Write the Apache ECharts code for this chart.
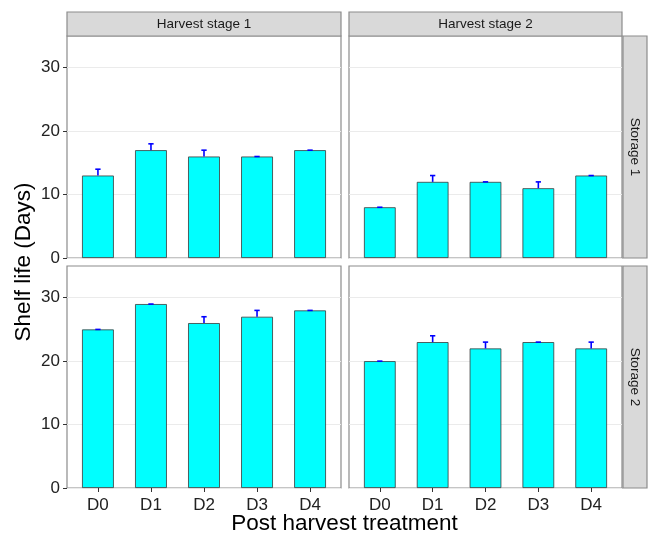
<!DOCTYPE html>
<html>
<head>
<meta charset="utf-8">
<style>
  html, body { margin: 0; padding: 0; background: #ffffff; }
  #chart { width: 651px; height: 536px; }
</style>
<script src="https://cdn.jsdelivr.net/npm/echarts@6/dist/echarts.min.js"></script>
</head>
<body>
<div id="chart"></div>
<script>
// Treatments on the x axis
const categories = ['D0', 'D1', 'D2', 'D3', 'D4'];
// Facet labels
const stageLabels = ['Harvest stage 1', 'Harvest stage 2'];
const storageLabels = ['Storage 1', 'Storage 2'];
// Y axis tick values
const yTicks = [0, 10, 20, 30];
const yMax = 35;

// Mean shelf life (days) and standard error, per facet
const storage1Stage1 = [13, 17, 16, 16, 17];
const storage1Stage1Err = [1, 1, 1, 0, 0];
const storage1Stage2 = [8, 12, 12, 11, 13];
const storage1Stage2Err = [0, 1, 0, 1, 0];
const storage2Stage1 = [25, 29, 26, 27, 28];
const storage2Stage1Err = [0, 0, 1, 1, 0];
const storage2Stage2 = [20, 23, 22, 23, 22];
const storage2Stage2Err = [0, 1, 1, 0, 1];

const panels = [
  { row: 0, col: 0, values: storage1Stage1, errors: storage1Stage1Err },
  { row: 0, col: 1, values: storage1Stage2, errors: storage1Stage2Err },
  { row: 1, col: 0, values: storage2Stage1, errors: storage2Stage1Err },
  { row: 1, col: 1, values: storage2Stage2, errors: storage2Stage2Err }
];

// Panel layout
const colLeft = [67, 349];
const colWidth = [274, 273];
const rowTop = [36, 266];
const rowHeight = 222;
const stripSize = 24;
const FONT = '"Liberation Sans", Arial, sans-serif';

const chart = echarts.init(document.getElementById('chart'), null, { renderer: 'canvas' });

const grids = [], xAxes = [], yAxes = [], series = [];

panels.forEach((p, i) => {
  const left = colLeft[p.col], width = colWidth[p.col], top = rowTop[p.row];
  // discrete scale expansion: 0.6 units each side of 5 categories
  const unit = width / (categories.length + 1.2);
  const inset = unit * 0.1;

  // frame grid: border, gridlines, y labels
  grids.push({ left: left, top: top, width: width, height: rowHeight, show: true,
    borderColor: '#8c8c8c', borderWidth: 1.2, backgroundColor: '#ffffff', containLabel: false });
  xAxes.push({ gridIndex: 2 * i, type: 'value', min: 0, max: 1, show: false });
  yAxes.push({ gridIndex: 2 * i, type: 'value', min: 0, max: yMax, interval: 10,
    axisLine: { show: false },
    axisTick: { show: p.col === 0, length: 4, lineStyle: { color: '#333333' }, customValues: yTicks },
    axisLabel: { show: p.col === 0, fontFamily: FONT, fontSize: 17, color: '#222222', margin: 7,
      customValues: yTicks },
    splitLine: { show: true, lineStyle: { color: '#ebebeb', width: 1 } }
  });

  // data grid: bars and error bars
  grids.push({ left: left + inset, top: top, width: width - 2 * inset, height: rowHeight, show: false });
  xAxes.push({ gridIndex: 2 * i + 1, type: 'category', data: categories, boundaryGap: true,
    axisLine: { show: false },
    axisTick: { show: p.row === 1, alignWithLabel: true, length: 4, lineStyle: { color: '#333333' } },
    axisLabel: { show: p.row === 1, fontFamily: FONT, fontSize: 17, color: '#222222', margin: 9 },
    splitLine: { show: false }
  });
  yAxes.push({ gridIndex: 2 * i + 1, type: 'value', min: 0, max: yMax, show: false });

  series.push({
    type: 'bar', xAxisIndex: 2 * i + 1, yAxisIndex: 2 * i + 1,
    data: p.values, barWidth: '60%',
    itemStyle: { color: '#00ffff', borderColor: '#3a3a3a', borderWidth: 0.8 },
    silent: true, z: 2
  });

  series.push({
    type: 'custom', xAxisIndex: 2 * i + 1, yAxisIndex: 2 * i + 1,
    data: p.values.map((v, k) => [k, v, p.errors[k]]),
    encode: { x: 0, y: 1 },
    z: 3, silent: true,
    renderItem: function (params, api) {
      const k = api.value(0), v = api.value(1), e = api.value(2);
      const base = api.coord([k, v]);
      const tip = api.coord([k, v + e]);
      const half = api.size([1, 0])[0] * 0.05;
      const style = { stroke: '#0000ff', lineWidth: 1.6 };
      return {
        type: 'group',
        children: [
          { type: 'line', shape: { x1: base[0], y1: base[1], x2: tip[0], y2: tip[1] }, style: style },
          { type: 'line', shape: { x1: tip[0] - half, y1: tip[1], x2: tip[0] + half, y2: tip[1] }, style: style }
        ]
      };
    }
  });
});

// facet strips and axis titles
const graphics = [];
stageLabels.forEach((label, c) => {
  graphics.push({ type: 'rect', z: 10,
    shape: { x: colLeft[c], y: rowTop[0] - stripSize, width: colWidth[c], height: stripSize },
    style: { fill: '#d9d9d9', stroke: '#8c8c8c', lineWidth: 1.2 } });
  graphics.push({ type: 'text', z: 11,
    x: colLeft[c] + colWidth[c] / 2, y: rowTop[0] - stripSize / 2,
    style: { text: label, fontFamily: FONT, fontSize: 13.5, fill: '#1a1a1a',
      align: 'center', verticalAlign: 'middle' } });
});
const stripX = colLeft[1] + colWidth[1] + 1;
storageLabels.forEach((label, r) => {
  graphics.push({ type: 'rect', z: 10,
    shape: { x: stripX, y: rowTop[r], width: stripSize, height: rowHeight },
    style: { fill: '#d9d9d9', stroke: '#8c8c8c', lineWidth: 1.2 } });
  graphics.push({ type: 'text', z: 11,
    x: stripX + stripSize / 2, y: rowTop[r] + rowHeight / 2, rotation: -Math.PI / 2,
    style: { text: label, fontFamily: FONT, fontSize: 13.5, fill: '#1a1a1a',
      align: 'center', verticalAlign: 'middle' } });
});
graphics.push({ type: 'text', z: 11,
  x: 24, y: (rowTop[0] + rowTop[1] + rowHeight) / 2, rotation: Math.PI / 2,
  style: { text: 'Shelf life (Days)', fontFamily: FONT, fontSize: 22.5, fill: '#000000',
    align: 'center', verticalAlign: 'middle' } });
graphics.push({ type: 'text', z: 11,
  x: (colLeft[0] + colLeft[1] + colWidth[1]) / 2, y: 524,
  style: { text: 'Post harvest treatment', fontFamily: FONT, fontSize: 22.5, fill: '#000000',
    align: 'center', verticalAlign: 'middle' } });

chart.setOption({
  animation: false,
  backgroundColor: '#ffffff',
  grid: grids,
  xAxis: xAxes,
  yAxis: yAxes,
  series: series,
  graphic: graphics
});
</script>
</body>
</html>
